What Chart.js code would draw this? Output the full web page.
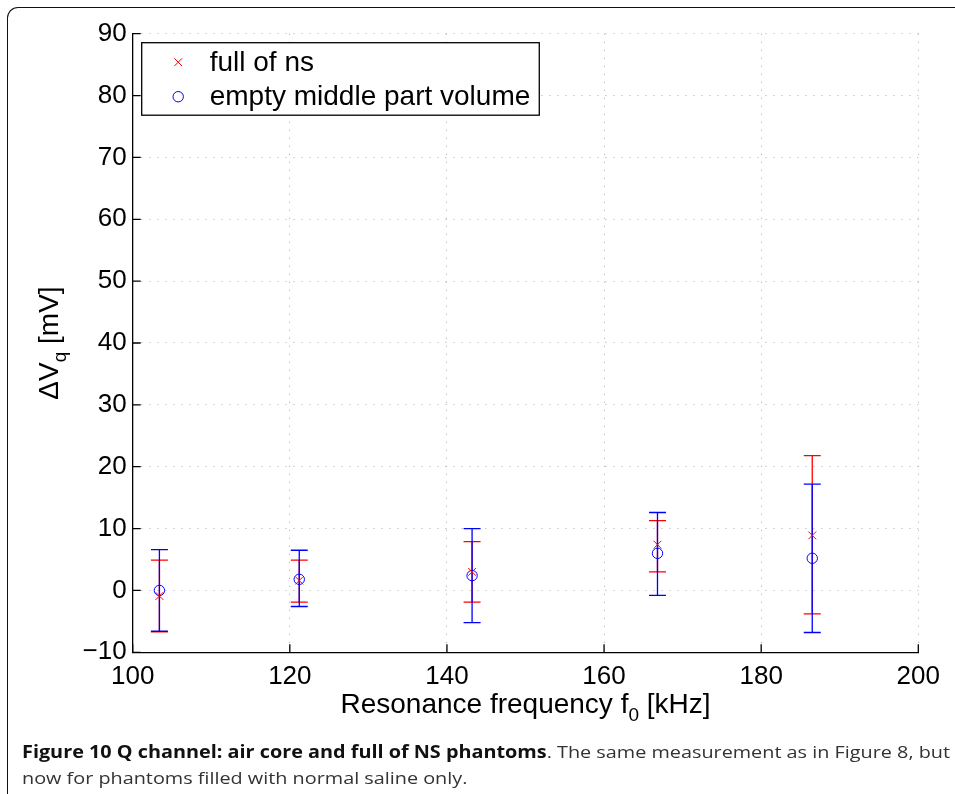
<!DOCTYPE html>
<html>
<head>
<meta charset="utf-8">
<script src="https://cdn.jsdelivr.net/npm/chart.js@4/dist/chart.umd.min.js"></script>
<style>
  html, body { margin:0; padding:0; background:#fff; width:955px; height:794px; overflow:hidden; }
  #frame { position:absolute; left:7px; top:7px; width:1000px; height:900px;
           border-left:1.5px solid #111; border-top:1.5px solid #111; border-top-left-radius:11px; }
  #c { position:absolute; left:0; top:0; }
  #caption { position:absolute; left:22px; top:739px; font-family:"Open Sans", sans-serif;
             font-size:17px; line-height:26px; color:#333; white-space:nowrap; transform-origin:0 0; }
  #caption b { color:#111; }
</style>
</head>
<body>
<div id="frame"></div>
<canvas id="c" width="955" height="794"></canvas>
<div id="caption"><span id="line1"><b>Figure 10 Q channel: air core and full of NS phantoms</b>. The same measurement as in Figure 8, but</span><br><span>now for phantoms filled with normal saline only.</span></div>
<script>
// ---- data ----
const freqs        = [103.4, 121.2, 143.2, 166.8, 186.5];   // kHz
const fullNs       = [-0.9, 1.6, 3.0, 7.4, 8.9];            // mV
const fullNsLow    = [-6.7, -1.9, -1.9, 3.0, -3.8];
const fullNsHigh   = [4.9, 4.9, 7.9, 11.3, 21.8];
const emptyMid     = [0.0, 1.8, 2.4, 6.0, 5.2];
const emptyMidLow  = [-6.6, -2.6, -5.2, -0.8, -6.8];
const emptyMidHigh = [6.6, 6.5, 10.0, 12.6, 17.2];
const seriesLabels = ['full of ns', 'empty middle part volume'];
const xTitle = ['Resonance frequency f', '0', ' [kHz]'];
const yTitle = ['\u0394V', 'q', ' [mV]'];

const FONT = '"Liberation Sans", Arial, sans-serif';
const RED = '#ff0000', BLUE = '#0000ff';

const errorBars = [
  {x: freqs, lo: fullNsLow, hi: fullNsHigh, color: RED},
  {x: freqs, lo: emptyMidLow, hi: emptyMidHigh, color: BLUE}
];

const customPlugin = {
  id: 'custom',
  beforeDatasetsDraw(chart) {
    const {ctx, scales:{x, y}} = chart;
    ctx.save();
    ctx.lineWidth = 1.3;
    errorBars.forEach(s => {
      ctx.strokeStyle = s.color;
      s.x.forEach((xv, i) => {
        const px = x.getPixelForValue(xv);
        const p1 = y.getPixelForValue(s.lo[i]);
        const p2 = y.getPixelForValue(s.hi[i]);
        const hw = 8.5;
        ctx.beginPath();
        ctx.moveTo(px, p1); ctx.lineTo(px, p2);
        ctx.moveTo(px - hw, p1); ctx.lineTo(px + hw, p1);
        ctx.moveTo(px - hw, p2); ctx.lineTo(px + hw, p2);
        ctx.stroke();
      });
    });
    ctx.restore();
  },
  afterDraw(chart) {
    const {ctx, chartArea:ca, scales:{x, y}} = chart;
    ctx.save();
    // inward ticks
    ctx.strokeStyle = '#000'; ctx.lineWidth = 1.3;
    ctx.beginPath();
    y.ticks.forEach(t => { const py = y.getPixelForValue(t.value); ctx.moveTo(ca.left, py); ctx.lineTo(ca.left + 8, py); });
    x.ticks.forEach(t => { const px = x.getPixelForValue(t.value); ctx.moveTo(px, ca.bottom); ctx.lineTo(px, ca.bottom - 8); });
    ctx.stroke();

    // legend
    ctx.font = '28px ' + FONT;
    const tw = Math.max(...seriesLabels.map(l => ctx.measureText(l).width));
    const lx = ca.left + 9, ly = ca.top + 9;
    const lw = 68 + tw + 9, lh = 72.5;
    ctx.fillStyle = '#fff';
    ctx.fillRect(lx, ly, lw, lh);
    ctx.strokeStyle = '#000'; ctx.lineWidth = 1.3;
    ctx.strokeRect(lx, ly, lw, lh);
    const rows = [ly + 19.5, ly + 54];
    chart.data.datasets.forEach((ds, i) => {
      const ry = rows[i];
      ctx.lineWidth = 1;
      ctx.strokeStyle = ds.borderColor;
      ctx.fillStyle = ds.backgroundColor;
      Chart.helpers.drawPoint(ctx, {pointStyle: ds.pointStyle, radius: ds.pointRadius, borderWidth: 1, rotation: 0}, lx + 36.5, ry);
      ctx.fillStyle = '#000';
      ctx.textBaseline = 'middle'; ctx.textAlign = 'left';
      ctx.font = '28px ' + FONT;
      ctx.fillText(ds.label, lx + 68, ry + 1);
    });

    // axis titles with subscripts
    const drawSub = (parts, cx, baseY) => {
      ctx.font = '28px ' + FONT;
      const w0 = ctx.measureText(parts[0]).width;
      const w2 = ctx.measureText(parts[2]).width;
      ctx.font = '19px ' + FONT;
      const w1 = ctx.measureText(parts[1]).width;
      let sx = cx - (w0 + w1 + w2) / 2;
      ctx.fillStyle = '#000'; ctx.textAlign = 'left'; ctx.textBaseline = 'alphabetic';
      ctx.font = '28px ' + FONT; ctx.fillText(parts[0], sx, baseY); sx += w0;
      ctx.font = '19px ' + FONT; ctx.fillText(parts[1], sx, baseY + 8); sx += w1;
      ctx.font = '28px ' + FONT; ctx.fillText(parts[2], sx, baseY);
    };
    drawSub(xTitle, (ca.left + ca.right) / 2, 713);
    ctx.save();
    ctx.translate(58, (ca.top + ca.bottom) / 2);
    ctx.rotate(-Math.PI / 2);
    drawSub(yTitle, 0, 0);
    ctx.restore();
    ctx.restore();
  }
};

const gridCommon = { color: '#b8b8b8', lineWidth: 1, drawTicks: false };
const borderCommon = { display: true, color: '#000', width: 1.3, dash: [1.2, 6.8] };

new Chart(document.getElementById('c'), {
  type: 'scatter',
  data: {
    datasets: [
      { label: seriesLabels[0], data: freqs.map((f, i) => ({x: f, y: fullNs[i]})),
        pointStyle: 'crossRot', pointRadius: 5.5, borderColor: RED, backgroundColor: RED, borderWidth: 1, showLine: false },
      { label: seriesLabels[1], data: freqs.map((f, i) => ({x: f, y: emptyMid[i]})),
        pointStyle: 'circle', pointRadius: 5.2, borderColor: BLUE, backgroundColor: 'rgba(0,0,0,0)', borderWidth: 1, showLine: false }
    ]
  },
  options: {
    responsive: false,
    animation: false,
    devicePixelRatio: 1,
    layout: { padding: { left: 0, top: 33.7, right: 36.7, bottom: 794 - 652.3 - 45 } },
    plugins: { legend: { display: false }, tooltip: { enabled: false } },
    scales: {
      x: {
        type: 'linear', min: 100, max: 200,
        ticks: { stepSize: 20, color: '#000', font: { family: FONT, size: 26 }, padding: 9, maxRotation: 0 },
        grid: gridCommon, border: borderCommon,
        afterFit: s => { s.height = 45; }
      },
      y: {
        type: 'linear', min: -10, max: 90,
        ticks: { stepSize: 10, color: '#000', font: { family: FONT, size: 26 }, padding: 6,
                 callback: v => v < 0 ? '\u2212' + Math.abs(v) : String(v) },
        grid: gridCommon, border: borderCommon,
        afterFit: s => { s.width = 132.7; }
      }
    }
  },
  plugins: [customPlugin]
});

// fit caption first line to the reference width
(function(){
  const cap = document.getElementById('caption');
  const w = document.getElementById('line1').getBoundingClientRect().width;
  const s = 928 / w;
  cap.style.transform = 'scaleX(' + s + ')';
})();
</script>
</body>
</html>
